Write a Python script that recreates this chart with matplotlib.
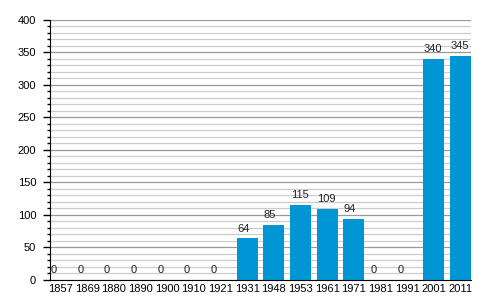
import numpy as np
import matplotlib
matplotlib.use('Agg')
import matplotlib.pyplot as plt
from matplotlib.ticker import MultipleLocator

years = ['1857', '1869', '1880', '1890', '1900', '1910', '1921', '1931',
         '1948', '1953', '1961', '1971', '1981', '1991', '2001', '2011']
values = [0, 0, 0, 0, 0, 0, 0, 64, 85, 115, 109, 94, 0, 0, 340, 345]

plt.rcParams['font.family'] = ['Liberation Sans', 'DejaVu Sans']

fig = plt.figure(figsize=(5, 3), dpi=100)
ax = fig.add_axes([0.1, 0.0667, 0.842, 0.8667])

x = np.arange(len(years))
w = 0.79
bars = ax.bar(x, values, w, color='#0096d6', zorder=3)
# value labels start at the left edge of each bar
for xi, v in zip(x, values):
    ax.annotate(str(v), (xi - w / 2, v), xytext=(0.5, 3.5), textcoords='offset points',
                ha='left', va='bottom', fontsize=8, color='#222222', zorder=6,
                annotation_clip=False)

ax.set_xlim(-0.4, len(years) - 0.6)
ax.set_ylim(0, 400)
ax.set_xticks(x)
ax.set_xticklabels(years)
ax.yaxis.set_major_locator(MultipleLocator(50))
ax.yaxis.set_minor_locator(MultipleLocator(10))
ax.grid(which='major', axis='y', color='#999999', linewidth=0.9, zorder=1)
ax.grid(which='minor', axis='y', color='#cccccc', linewidth=0.9, zorder=1)
ax.tick_params(axis='x', length=0, labelsize=8, pad=3)
ax.tick_params(axis='y', which='major', length=5, width=1, labelsize=8, pad=5)
ax.tick_params(axis='y', which='minor', length=2.5, width=1)
for s in ['top', 'right']:
    ax.spines[s].set_visible(False)
ax.spines['left'].set_zorder(5)
ax.spines['bottom'].set_zorder(5)

fig.savefig('out.png', dpi=100)
